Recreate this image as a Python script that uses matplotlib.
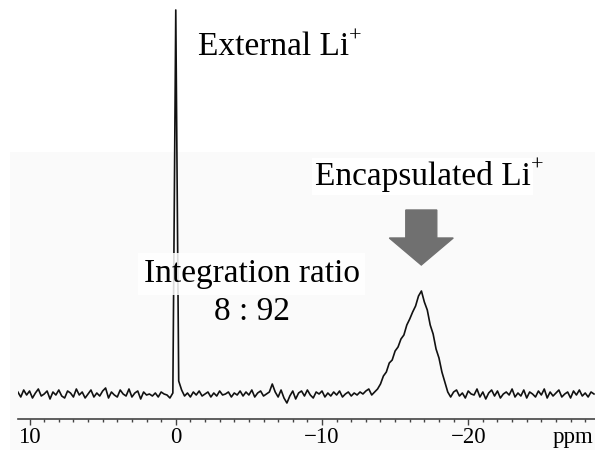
#7Li-NMR Spektrum: externes und eingekapseltes Li+ (Nachbau der Abbildung)

import numpy as np
import matplotlib.pyplot as plt
from matplotlib.patches import Rectangle

# === Daten (Schrittweite 0.2 ppm, Start bei 10.8 ppm) ===
start_ppm = 10.8
step_ppm = 0.2

# 10.8 ... 0.2 ppm
noise_left = [2, -3, 4, -1, 3, -4, 1, 5, -2, 0,
              3, -5, 2, -1, 4, -2, -4, 3, 1, -3,
              5, -1, 2, -4, 0, 4, -3, 1, -2, 3,
              6, -4, 2, -1, -3, 4, 0, -2, 5, -3,
              1, 3, -5, 2, -1, 0, -2, 1, -3, 2,
              0, -1, -4, 1]
# 0.0 ... -0.4 ppm (externes Li+)
external_peak = [384, 13, 4]
# -0.6 ... -13.6 ppm
noise_mid = [-2, 1, -3, 2, -1, 3, -2, 0, 2, -3,
             1, -2, 3, -1, 0, 2, -3, 1, -1, 3,
             -2, 2, -1, 4, -3, 1, 3, -2, 0, 2,
             10, 2, -3, 4, -4, -9, -2, 3, -5, 1,
             3, -2, 4, -1, -4, 2, 0, 3, -3, 1,
             -2, 2, -1, 3, -3, 0, 2, -2, 1, -1,
             2, 0, 3, 5, -1, 2]
# -13.8 ... -18.6 ppm (eingekapseltes Li+)
encapsulated_peak = [5, 10, 18, 22, 31, 34, 43, 47, 55, 59,
                     69, 75, 82, 88, 98, 103, 92, 84, 69, 60,
                     45, 36, 22, 12, 2]
# -18.8 ... -28.6 ppm
noise_right = [-3, 2, 4, -2, 1, -4, 3, 0, -1, 5,
               -3, 2, -5, 1, 4, -2, 3, -4, 0, 2,
               -1, 5, -3, 1, -2, 4, -4, 2, 0, -3,
               3, -1, 5, -4, 2, -2, 1, 4, -3, 0,
               2, -4, 3, -1, 4, -2, 1, -3, 2, 0]

tick_major = [10, 0, -10, -20]

intensity = np.concatenate([noise_left, external_peak, noise_mid,
                            encapsulated_peak, noise_right]).astype(float)
ppm = start_ppm - step_ppm * np.arange(len(intensity))

plt.rcParams['font.family'] = 'Liberation Serif'

fig = plt.figure(figsize=(5.95, 4.5), dpi=100)

# leicht grauer Hintergrund im unteren Teil
fig.patches.append(Rectangle((10 / 595, 0), 1, (450 - 152) / 450,
                             transform=fig.transFigure, facecolor='#fafafa',
                             edgecolor='none', zorder=-5))

ax = fig.add_axes([18 / 595, 31 / 450, 1 - 18 / 595, 419 / 450])
ax.set_zorder(1)
ax.patch.set_visible(False)
ax.plot(ppm, intensity, color='#111111', lw=1.2, zorder=2)

ax.set_xlim(10.79, -28.67)
ax.set_ylim(-25, 394)

for s in ['left', 'right', 'top']:
    ax.spines[s].set_visible(False)
ax.spines['bottom'].set_color('#444444')
ax.spines['bottom'].set_linewidth(1.2)
ax.set_yticks([])
ax.set_xticks(tick_major)
ax.set_xticks(np.arange(10, -29, -1), minor=True)
ax.tick_params(axis='x', which='major', length=4.5, width=1, color='#444444',
               labelsize=16.5, pad=1)
ax.tick_params(axis='x', which='minor', length=2.2, width=1, color='#444444')

ax.text(-25.8, -49, 'ppm', fontsize=16.5, ha='left', va='baseline', clip_on=False)


def label_mit_plus(x, y, text, **kw):
    t = ax.text(x, y, text, fontsize=24, ha='left', va='baseline', **kw)
    ax.annotate('+', xy=(1.0, 0.52), xycoords=t, fontsize=16,
                ha='left', va='bottom', zorder=5)
    return t


# Beschriftungen
label_mit_plus(-1.5, 339, 'External Li')
label_mit_plus(-9.49, 209, 'Encapsulated Li',
               bbox=dict(facecolor='white', edgecolor='none', pad=2), zorder=3)
ax.text(-5.19, 112, 'Integration ratio', fontsize=24, ha='center', va='baseline',
        bbox=dict(facecolor='white', edgecolor='none', alpha=0.85, pad=4), zorder=3)
ax.text(-5.19, 74, '8 : 92', fontsize=24, ha='center', va='baseline', zorder=3)

# Pfeil auf das Signal des eingekapselten Li+
ax.arrow(-16.79, 184, 0, -55, width=2.12, head_width=4.37, head_length=27,
         length_includes_head=True, color='#707070', zorder=4)

fig.savefig('out.png', dpi=100)
